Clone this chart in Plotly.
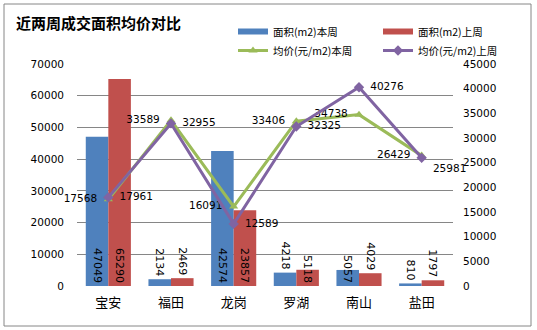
import plotly.graph_objects as go

categories = ["宝安", "福田", "龙岗", "罗湖", "南山", "盐田"]
area_this_week = [47049, 2134, 42574, 4218, 5057, 810]
area_last_week = [65290, 2469, 23857, 5118, 4029, 1797]
price_this_week = [17568, 33589, 16091, 33406, 34738, 26429]
price_last_week = [17961, 32955, 12589, 32325, 40276, 25981]
left_ticks = list(range(0, 70001, 10000))
right_ticks = list(range(0, 45001, 5000))

W, H = 537, 330
L, R, T, B = 77, 84, 64, 44
PW, PH = W - L - R, H - T - B

BLUE, RED, GREEN, PURPLE = "#4F81BD", "#C0504D", "#9BBB59", "#8064A2"
NUMFONT = "DejaVu Sans"
CJK = "Noto Sans CJK SC"
SP = "\u2002"

fig = go.Figure()

def bar(name, vals, color):
    return go.Bar(
        x=categories, y=vals, name=name, marker_color=color, marker_line_width=0,
        text=[str(v) for v in vals], textposition="auto", insidetextanchor="start",
        textangle=90, constraintext="none", cliponaxis=False,
        insidetextfont=dict(family=NUMFONT, size=11, color="#000000"),
        outsidetextfont=dict(family=NUMFONT, size=11, color="#000000"),
        showlegend=False, legendgroup=name, yaxis="y",
    )

fig.add_trace(bar("面积(m2)本周", area_this_week, BLUE))
fig.add_trace(bar("面积(m2)上周", area_last_week, RED))

# legend proxies for the bar series (flat rectangles like the original)
for name, color in [("面积(m2)本周", BLUE), ("面积(m2)上周", RED)]:
    fig.add_trace(go.Scatter(x=[None], y=[None], mode="lines", name=name,
                             line=dict(color=color, width=6), legendgroup=name,
                             showlegend=True, yaxis="y"))

green_pos = ["middle left"] * 6
purple_pos = ["middle right"] * 5 + ["bottom right"]

fig.add_trace(go.Scatter(
    x=categories, y=price_this_week, name="均价(元/m2)本周", mode="lines+markers+text",
    line=dict(color=GREEN, width=3), marker=dict(symbol="triangle-up", size=8, color=GREEN),
    text=[f"{v}{SP}" for v in price_this_week], textposition=green_pos,
    textfont=dict(family=NUMFONT, size=10.5, color="#000000"), yaxis="y2", cliponaxis=False,
))
fig.add_trace(go.Scatter(
    x=categories, y=price_last_week, name="均价(元/m2)上周", mode="lines+markers+text",
    line=dict(color=PURPLE, width=3), marker=dict(symbol="diamond", size=8, color=PURPLE),
    text=[f"{SP}{v}" for v in price_last_week], textposition=purple_pos,
    textfont=dict(family=NUMFONT, size=10.5, color="#000000"), yaxis="y2", cliponaxis=False,
))

px2x = lambda px: (px - L) / PW
py2y = lambda py: (T + PH - py) / PH

fig.update_layout(
    width=W, height=H, margin=dict(l=L, r=R, t=T, b=B, autoexpand=False),
    paper_bgcolor="white", plot_bgcolor="white",
    barmode="group", bargap=0.28, bargroupgap=0,
    title=dict(text="<b>近两周成交面积均价对比</b>", font=dict(family=CJK, size=15, color="#000000"),
               x=16 / W, xanchor="left", xref="container", y=1 - 24 / H, yanchor="middle",
               yref="container"),
    legend=dict(orientation="h", x=px2x(233), xanchor="left", y=py2y(17), yanchor="top",
                font=dict(family=CJK, size=10.5, color="#000000"), itemwidth=30,
                entrywidth=100, entrywidthmode="pixels", traceorder="normal",
                bgcolor="rgba(0,0,0,0)", tracegroupgap=0),
    xaxis=dict(type="category", showgrid=False, showline=False, ticks="",
               tickfont=dict(family=CJK, size=13, color="#000000"), ticklabelstandoff=7),
    yaxis=dict(range=[0, 70000], tickvals=left_ticks, ticktext=[str(v) for v in left_ticks],
               showgrid=True, gridcolor="#868686",
               gridwidth=1, showline=False, ticks="", zeroline=False,
               tickfont=dict(family=NUMFONT, size=10.5, color="#000000"), ticklabelstandoff=12),
    yaxis2=dict(range=[0, 45000], tickvals=right_ticks, ticktext=[str(v) for v in right_ticks],
                overlaying="y", side="right",
                showgrid=False, showline=False, ticks="", zeroline=False,
                tickfont=dict(family=NUMFONT, size=10.5, color="#000000"), ticklabelstandoff=9),
    shapes=[dict(type="rect", xref="paper", yref="paper", x0=px2x(4), x1=px2x(531),
                 y0=py2y(326), y1=py2y(4), line=dict(color="#868686", width=1), layer="below")],
    showlegend=True,
)

fig.write_html("out.html")
